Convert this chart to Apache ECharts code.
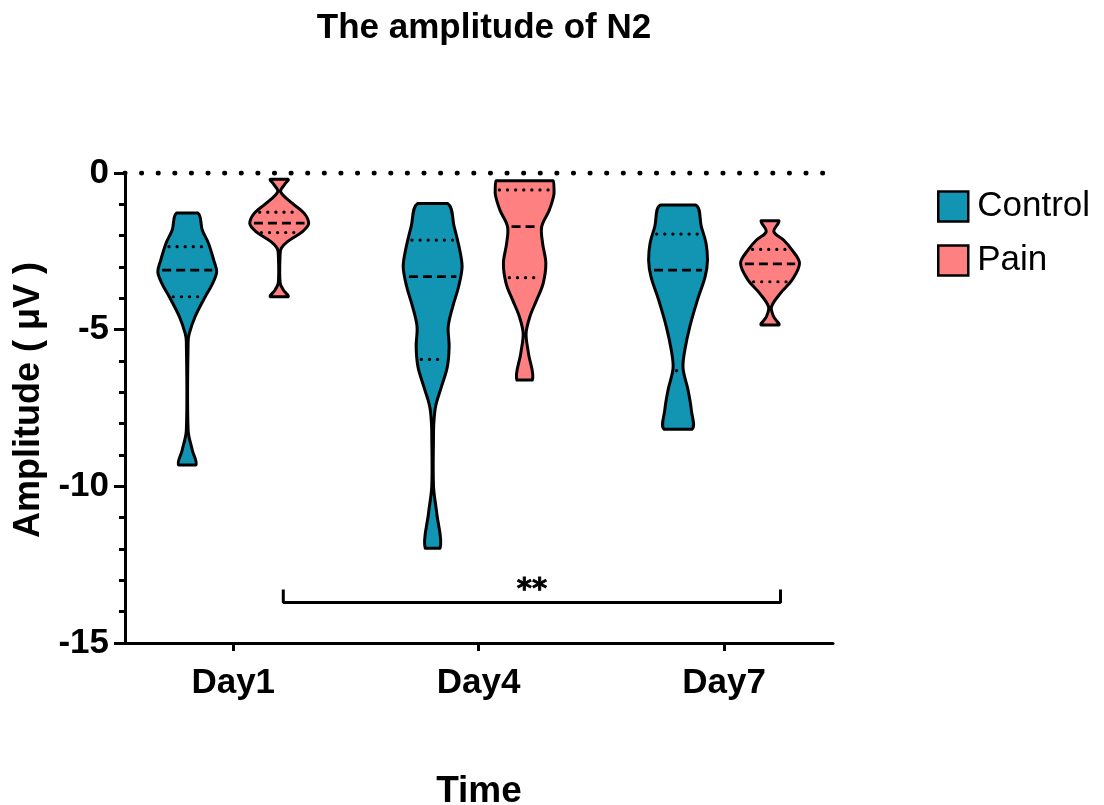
<!DOCTYPE html>
<html>
<head>
<meta charset="utf-8">
<title>The amplitude of N2</title>
<script src="https://cdn.jsdelivr.net/npm/echarts@6/dist/echarts.min.js"></script>
<style>
  html, body { margin: 0; padding: 0; background: #fff; }
  #chart { width: 1104px; height: 805px; }
</style>
</head>
<body>
<div id="chart"></div>
<script>
// categories and tick labels
var days = ["Day1", "Day4", "Day7"];
var dayPos = [1, 2, 3];
var yTicks = [0, -5, -10, -15];

// violin outlines: [value, relative density] from top to bottom
var controlProfiles = [
  [[-1.28, 0.36], [-1.82, 0.51], [-2.24, 0.72], [-2.78, 0.9], [-3.15, 1.0], [-3.55, 0.85], [-3.95, 0.61], [-4.58, 0.27], [-5.12, 0.07], [-5.4, 0.03], [-8.2, 0.03], [-8.84, 0.17], [-9.32, 0.29]],
  [[-0.97, 0.51], [-1.71, 0.73], [-2.46, 0.92], [-2.99, 1.0], [-3.63, 0.88], [-4.27, 0.68], [-4.9, 0.53], [-5.54, 0.56], [-6.18, 0.5], [-6.82, 0.3], [-7.45, 0.1], [-7.99, 0.04], [-8.3, 0.03], [-10.0, 0.03], [-10.86, 0.14], [-11.98, 0.25]],
  [[-1.02, 0.6], [-1.71, 0.79], [-2.24, 0.95], [-2.78, 1.0], [-3.31, 0.92], [-4.05, 0.66], [-4.9, 0.4], [-5.65, 0.23], [-6.23, 0.17], [-6.93, 0.34], [-7.56, 0.45], [-8.18, 0.47]]
];
var painProfiles = [
  [[-0.2, 0.3], [-0.38, 0.17], [-0.6, 0.05], [-0.97, 0.45], [-1.29, 0.85], [-1.61, 1.0], [-1.87, 0.79], [-2.19, 0.28], [-2.4, 0.07], [-2.6, 0.03], [-3.5, 0.03], [-3.73, 0.14], [-3.95, 0.3]],
  [[-0.25, 0.97], [-0.65, 1.0], [-1.18, 0.84], [-1.71, 0.58], [-2.24, 0.61], [-2.88, 0.72], [-3.52, 0.63], [-4.05, 0.41], [-4.58, 0.18], [-5.12, 0.05], [-5.75, 0.13], [-6.61, 0.26]],
  [[-1.52, 0.3], [-1.87, 0.13], [-2.14, 0.46], [-2.46, 0.75], [-2.88, 1.0], [-3.41, 0.75], [-3.84, 0.35], [-4.27, 0.05], [-4.58, 0.12], [-4.85, 0.3]]
];

// median and quartiles
var controlMedian = [-3.1, -3.31, -3.1];
var controlQ1 = [-2.35, -2.14, -1.95];
var controlQ3 = [-3.95, -5.95, -6.31];
var painMedian = [-1.6, -1.71, -2.9];
var painQ1 = [-1.25, -0.54, -2.44];
var painQ3 = [-1.9, -3.34, -3.47];

// significance bracket (Pain Day1 vs Pain Day7)
var bracketX = [1.204, 1.204, 3.23, 3.23];
var bracketY = [-13.29, -13.71, -13.71, -13.29];
var bracketMark = "**";

var xMin = 0.559, xMax = 3.444;
var groupOffset = 0.1874;
var halfWidthMax = 0.12;

function densityAt(profile, v) {
  for (var i = 0; i < profile.length - 1; i++) {
    var a = profile[i], b = profile[i + 1];
    if (v <= a[0] && v >= b[0]) {
      var t = (a[0] - v) / (a[0] - b[0]);
      return a[1] + (b[1] - a[1]) * t;
    }
  }
  return 0;
}

function makeViolin(profiles, medians, q1s, q3s, offset) {
  return function (params, api) {
    var idx = api.value(1);
    var cx = api.value(0) + offset;
    var prof = profiles[idx];
    var left = [], right = [];
    prof.forEach(function (p) {
      left.push(api.coord([cx - p[1] * halfWidthMax, p[0]]));
    });
    for (var i = prof.length - 1; i >= 0; i--) {
      right.push(api.coord([cx + prof[i][1] * halfWidthMax, prof[i][0]]));
    }
    var pts = left.concat(right);
    var minX = Infinity, minY = Infinity, maxX = -Infinity, maxY = -Infinity;
    pts.forEach(function (p) {
      minX = Math.min(minX, p[0]); maxX = Math.max(maxX, p[0]);
      minY = Math.min(minY, p[1]); maxY = Math.max(maxY, p[1]);
    });
    var children = [{
      type: "polygon",
      shape: { points: pts, smooth: 0.35, smoothConstraint: [[minX, minY], [maxX, maxY]] },
      style: { fill: api.visual("color"), stroke: "#000", lineWidth: 3, lineJoin: "round" }
    }];
    function statLine(v, dash) {
      var d = densityAt(prof, v) * halfWidthMax;
      var p1 = api.coord([cx - d, v]);
      var p2 = api.coord([cx + d, v]);
      var dot = dash === "dot";
      children.push({
        type: "line",
        shape: { x1: p1[0] + 4, y1: p1[1], x2: p2[0] - 4, y2: p2[1] },
        style: { stroke: "#000", lineWidth: dot ? 3.2 : 2.8, lineDash: dot ? [0.1, 8] : [9, 5], lineCap: dot ? "round" : "butt" }
      });
    }
    statLine(medians[idx], "dash");
    statLine(q1s[idx], "dot");
    statLine(q3s[idx], "dot");
    return { type: "group", children: children };
  };
}

var chart = echarts.init(document.getElementById("chart"));
var font = "'Liberation Sans', Arial, sans-serif";

var option = {
  backgroundColor: "#fff",
  animation: false,
  title: {
    text: "The amplitude of N2",
    left: 479,
    top: 6,
    textAlign: "center",
    textStyle: { fontFamily: font, fontWeight: "bold", fontSize: 35, color: "#000" }
  },
  legend: {
    orient: "vertical",
    left: 932,
    top: 184,
    itemWidth: 30,
    itemHeight: 30,
    itemGap: 19,
    icon: "rect",
    itemStyle: { borderColor: "#000", borderWidth: 2.5 },
    textStyle: { fontFamily: font, fontSize: 35, color: "#000", padding: [0, 0, 0, 4] },
    data: ["Control", "Pain"]
  },
  grid: { left: 125, right: 271, top: 173, bottom: 162, outerBoundsMode: "none" },
  xAxis: {
    type: "value",
    min: xMin,
    max: xMax,
    name: "Time",
    nameLocation: "middle",
    nameGap: 130,
    nameTextStyle: { fontFamily: font, fontWeight: "bold", fontSize: 37, color: "#000" },
    splitLine: { show: false },
    axisLine: { show: true, onZero: false, lineStyle: { color: "#000", width: 3 } },
    axisTick: { show: true, customValues: dayPos, length: 8, lineStyle: { color: "#000", width: 3 } },
    axisLabel: {
      customValues: dayPos,
      margin: 23,
      fontFamily: font, fontWeight: "bold", fontSize: 35, color: "#000",
      formatter: function (v) { return days[Math.round(v) - 1]; }
    }
  },
  yAxis: {
    type: "value",
    min: -15,
    max: 0,
    interval: 5,
    name: "Amplitude ( μV )",
    nameLocation: "middle",
    nameGap: 72,
    nameTextStyle: { fontFamily: font, fontWeight: "bold", fontSize: 36, color: "#000", padding: [0, 0, 0, 16] },
    splitLine: { show: false },
    axisLine: { show: true, lineStyle: { color: "#000", width: 3 } },
    axisTick: { show: true, length: 11, lineStyle: { color: "#000", width: 3 } },
    minorTick: { show: true, splitNumber: 5, length: 6, lineStyle: { color: "#000", width: 3 } },
    axisLabel: {
      margin: 16,
      fontFamily: font, fontWeight: "bold", fontSize: 35, color: "#000",
      formatter: function (v) { return yTicks.indexOf(v) >= 0 ? String(v) : ""; }
    }
  },
  series: [
    {
      name: "zero",
      type: "line",
      symbol: "none",
      silent: true,
      data: [[xMin, 0], [xMax, 0]],
      lineStyle: { color: "#000", width: 5, type: [0.01, 16.6], cap: "round" },
      z: 1
    },
    {
      name: "Control",
      type: "custom",
      itemStyle: { color: "#1195b2", borderColor: "#000", borderWidth: 2.5 },
      renderItem: makeViolin(controlProfiles, controlMedian, controlQ1, controlQ3, -groupOffset),
      data: dayPos.map(function (d, i) { return [d, i]; }),
      z: 3
    },
    {
      name: "Pain",
      type: "custom",
      itemStyle: { color: "#ff8080", borderColor: "#000", borderWidth: 2.5 },
      renderItem: makeViolin(painProfiles, painMedian, painQ1, painQ3, groupOffset),
      data: dayPos.map(function (d, i) { return [d, i]; }),
      z: 3
    },
    {
      name: "bracket",
      type: "line",
      symbol: "none",
      silent: true,
      data: bracketX.map(function (x, i) { return [x, bracketY[i]]; }),
      lineStyle: { color: "#000", width: 3 },
      z: 2
    },
    {
      name: "sig",
      type: "scatter",
      symbolSize: 0,
      silent: true,
      data: [[(bracketX[0] + bracketX[3]) / 2, -13.33]],
      itemStyle: { opacity: 1 },
      label: {
        show: true,
        position: "inside",
        formatter: bracketMark,
        fontFamily: "'DejaVu Sans', sans-serif", fontWeight: "bold", fontSize: 29, color: "#000",
        textBorderColor: "#000", textBorderWidth: 0.8
      },
      z: 4
    }
  ]
};
chart.setOption(option);
</script>
</body>
</html>
